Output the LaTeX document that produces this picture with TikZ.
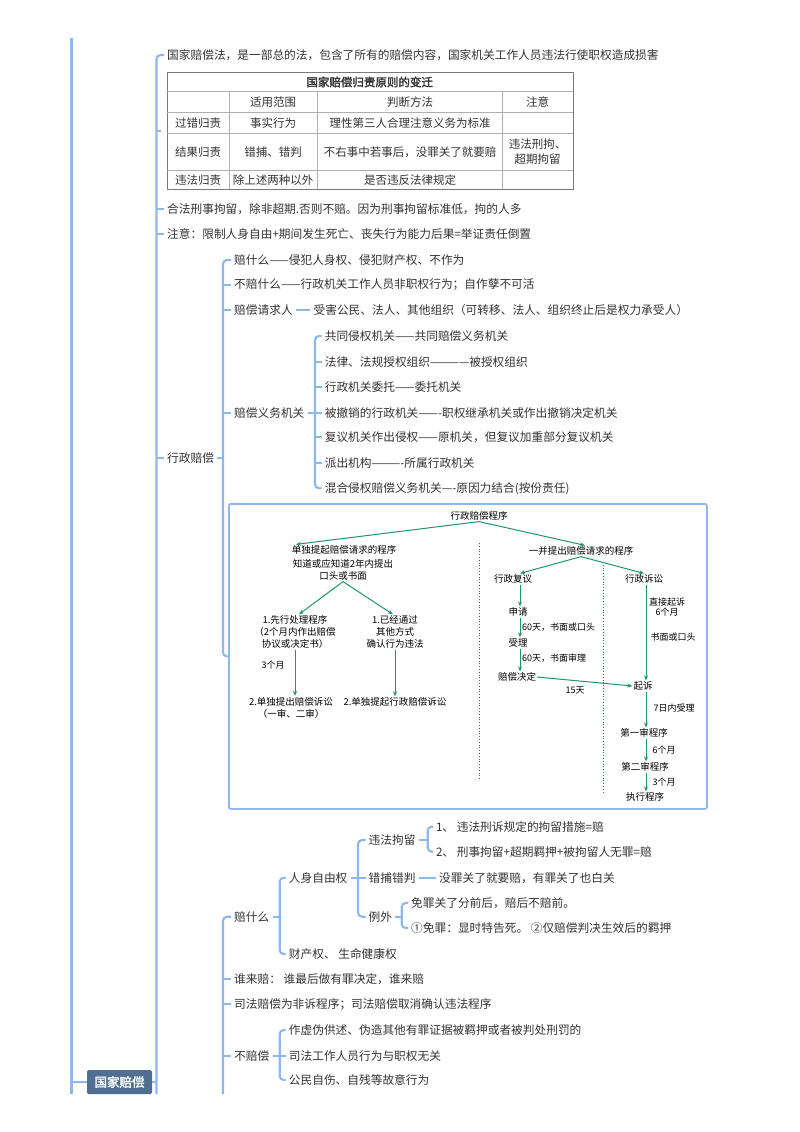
\documentclass[tikz,border=0pt]{standalone}
\usepackage{fontspec}
\newfontfamily\cjk[AutoFakeBold=2]{Noto Sans CJK SC}
\usetikzlibrary{arrows.meta,calc}
\definecolor{lnblue}{RGB}{140,184,235}
\definecolor{txt}{RGB}{51,51,51}
\definecolor{rootfill}{RGB}{80,110,145}
\definecolor{fcgreen}{RGB}{30,150,105}
\definecolor{tblline}{RGB}{175,175,175}
\definecolor{tbldark}{RGB}{120,120,120}
\begin{document}
\begin{tikzpicture}[x=1pt,y=-1pt,
  t/.style={anchor=west, inner xsep=3pt, inner ysep=1pt, text=txt, font=\cjk\fontsize{11.7}{14}\selectfont},
  tc/.style={inner sep=1pt, text=txt, align=center, font=\cjk\fontsize{11.5}{15}\selectfont},
  ln/.style={draw=lnblue, line width=2.1pt},
  br/.style={draw=lnblue, line width=2.1pt, rounded corners=4pt},
  rootbox/.style={fill=rootfill, text=white, font=\cjk\bfseries\fontsize{12.5}{14}\selectfont, minimum width=65pt, minimum height=24pt, inner sep=0pt, rounded corners=1.5pt},
  fc/.style={font=\cjk\fontsize{9.5}{12}\selectfont, text=black, inner sep=1pt, align=center},
  fl/.style={font=\cjk\fontsize{9}{10}\selectfont, text=black, inner sep=1pt, align=center},
  fa/.style={draw=fcgreen, line width=1pt, -{Stealth[length=5pt,width=4pt]}},
  fdot/.style={draw=fcgreen!80!black, dotted, line width=0.8pt}
]
\useasboundingbox[fill=white] (0,0) rectangle (800,1132);

% bracket line positions
\coordinate (b0) at (71.5,0);
\coordinate (b1) at (156.5,0);
\coordinate (b2) at (223,0);
\coordinate (b3) at (315,0);
\coordinate (b4) at (279.7,0);
\coordinate (b5) at (358,0);
\coordinate (b6) at (427.7,0);
\coordinate (b7) at (401.7,0);
\coordinate (top0) at (71.5,38);
\coordinate (bot0) at (71.5,1094);
\coordinate (bot1) at (156.5,1094);
\coordinate (bot2) at (223,1094);

% root
\node[rootbox] (root) at (119.5,1082) {国家赔偿};

% level 1
\node[t] (n1) at (164,55) {国家赔偿法，是一部总的法，包含了所有的赔偿内容，国家机关工作人员违法行使职权造成损害};
\node[draw=tbldark, line width=1pt, minimum width=406pt, minimum height=117.5pt, inner sep=0pt, anchor=north west] (tbl) at (166.7,71.7) {};
\node[t] (n3) at (164,209) {合法刑事拘留，除非超期.否则不赔。因为刑事拘留标准低，拘的人多};
\node[t] (n4) at (164,234) {注意：限制人身自由+期间发生死亡、丧失行为能力后果=举证责任倒置};
\node[t] (xz) at (164,458) {行政赔偿};

% table grid
\draw[tblline, line width=0.8pt] (166.7,91.7) -- (572.7,91.7)
  (166.7,112.3) -- (572.7,112.3)
  (166.7,133.3) -- (572.7,133.3)
  (166.7,170) -- (572.7,170)
  (229,91.7) -- (229,189.2)
  (317,91.7) -- (317,189.2)
  (502.6,91.7) -- (502.6,189.2);
\node[tc, font=\cjk\bfseries\fontsize{11.5}{14}\selectfont] (th) at (369.7,82) {国家赔偿归责原则的变迁};
\node[tc] (h1) at (273,102) {适用范围};
\node[tc] (h2) at (410,102) {判断方法};
\node[tc] (h3) at (537.6,102) {注意};
\node[tc] (r1a) at (198,123.5) {过错归责};
\node[tc] (r1b) at (273,123.5) {事实行为};
\node[tc] (r1c) at (410,123.5) {理性第三人合理注意义务为标准};
\node[tc] (r2a) at (198,152) {结果归责};
\node[tc] (r2b) at (273,152) {错捕、错判};
\node[tc] (r2c) at (410,152) {不右事中若事后，没罪关了就要赔};
\node[tc] (r2d) at (537.6,152) {违法刑拘、\\超期拘留};
\node[tc] (r3a) at (198,180.5) {违法归责};
\node[tc] (r3b) at (273,180.5) {除上述两种以外};
\node[tc] (r3c) at (410,180.5) {是否违反法律规定};

% level 1 connectors
\draw[ln] (top0) -- (bot0);
\draw[ln] (b0 |- root.west) -- (root.west);
\draw[ln] (root.east) -- (b1 |- root.east);
\draw[br] (n1.west) -- (b1 |- n1.west) -- (bot1);
\draw[ln] (b1 |- tbl.west) -- ($(tbl.west)+(-6,0)$);
\draw[ln] (b1 |- n3.west) -- (n3.west);
\draw[ln] (b1 |- n4.west) -- (n4.west);
\draw[ln] (b1 |- xz.west) -- (xz.west);

% 行政赔偿 children
\node[t] (p1) at (231,260) {赔什么——侵犯人身权、侵犯财产权、不作为};
\node[t] (p2) at (231,285) {不赔什么——行政机关工作人员非职权行为；自作孽不可活};
\node[t] (p3) at (231,310) {赔偿请求人};
\node[t] (p3a) at (310.4,310) {受害公民、法人、其他组织（可转移、法人、组织终止后是权力承受人）};
\node[t] (p4) at (231,412.7) {赔偿义务机关};
\node[draw=lnblue, line width=1.8pt, rounded corners=2pt, minimum width=478pt, minimum height=305pt, inner sep=0pt, anchor=north west] (fcbox) at (228,503) {};

\draw[ln] (xz.east) -- (b2 |- xz.east);
\draw[br] (p1.west) -- (b2 |- p1.west) -- (b2 |- fcbox.west) -- (fcbox.west);
\draw[ln] (b2 |- p2.west) -- (p2.west);
\draw[ln] (b2 |- p3.west) -- (p3.west);
\draw[ln] (b2 |- p4.west) -- (p4.west);
\draw[ln] (p3.east) -- (p3a.west);

\node[t] (q1) at (321.6,336) {共同侵权机关——共同赔偿义务机关};
\node[t] (q2) at (321.6,361.7) {法律、法规授权组织————被授权组织};
\node[t] (q3) at (321.6,386.7) {行政机关委托——委托机关};
\node[t] (q4) at (321.6,412.7) {被撤销的行政机关——-职权继承机关或作出撤销决定机关};
\node[t] (q5) at (321.6,437.3) {复议机关作出侵权——原机关，但复议加重部分复议机关};
\node[t] (q6) at (321.6,463.3) {派出机构———-所属行政机关};
\node[t] (q7) at (321.6,488.3) {混合侵权赔偿义务机关—-原因力结合(按份责任)};
\draw[ln] (p4.east) -- (b3 |- p4.east);
\draw[br] (q1.west) -- (b3 |- q1.west) -- (b3 |- q7.west) -- (q7.west);
\draw[ln] (b3 |- q2.west) -- (q2.west);
\draw[ln] (b3 |- q3.west) -- (q3.west);
\draw[ln] (b3 |- q4.west) -- (q4.west);
\draw[ln] (b3 |- q5.west) -- (q5.west);
\draw[ln] (b3 |- q6.west) -- (q6.west);

% flowchart
\node[fc] (fT) at (479,516) {行政赔偿程序};
\node[fc] (fL) at (344,550) {单独提起赔偿请求的程序};
\node[fc] (fL2) at (343,570) {知道或应知道2年内提出\\口头或书面};
\node[fc] (fR) at (581,551) {一并提出赔偿请求的程序};
\node[fc] (fA1) at (295,632) {1.先行处理程序\\（2个月内作出赔偿\\协议或决定书）};
\node[fc] (fB1) at (395,632) {1.已经通过\\其他方式\\确认行为违法};
\node[fc] (fA2) at (291,707.5) {2.单独提出赔偿诉讼\\（一审、二审）};
\node[fc] (fB2) at (395,702) {2.单独提起行政赔偿诉讼};
\node[fl] (l3m) at (273,665) {3个月};
\node[fc] (fFY) at (513,579) {行政复议};
\node[fc] (fSS) at (644,579) {行政诉讼};
\node[fc] (fSQ) at (518,612) {申请};
\node[fc] (fSL) at (518,643) {受理};
\node[fc] (fJD) at (517,677) {赔偿决定};
\node[fc] (fQS) at (643,686) {起诉};
\node[fc] (fYS) at (644,733) {第一审程序};
\node[fc] (fES) at (645,767) {第二审程序};
\node[fc] (fZX) at (645,797) {执行程序};
\node[fl, anchor=west] (l60a) at (521,627) {60天，书面或口头};
\node[fl, anchor=west] (l60b) at (521,658) {60天，书面审理};
\node[fl] (l15) at (575,690) {15天};
\node[fl] (lzj) at (667,607) {直接起诉\\6个月};
\node[fl] (lsm) at (673,637) {书面或口头};
\node[fl] (l7r) at (674,708) {7日内受理};
\node[fl] (l6m) at (664,750) {6个月};
\node[fl] (l3m2) at (664,782) {3个月};

\coordinate (cA) at (520,0);
\coordinate (cB) at (646,0);
\coordinate (d1a) at (479,543);
\coordinate (d1b) at (479,780);
\coordinate (d2a) at (603,562);
\coordinate (d2b) at (603,793);
\draw[fdot] (d1a) -- (d1b);
\draw[fdot] (d2a) -- (d2b);

\draw[fa] (fT.south) -- ($(fL.north)+(-48,0)$);
\draw[fa] (fT.south) -- ($(fR.north)+(4,0)$);
\draw[fa] (fL2.south) -- ($(fA1.north)+(4,0)$);
\draw[fa] (fL2.south) -- ($(fB1.north)+(-2,0)$);
\draw[fa] (fA1.south) -- (fA1.south |- fA2.north);
\draw[fa] (fB1.south) -- (fB1.south |- fB2.north);
\draw[fa] (fR.south) -- (cA |- fFY.north);
\draw[fa] (fR.south) -- (fSS.north);
\draw[fa] (cA |- fFY.south) -- (cA |- fSQ.north);
\draw[fa] (cA |- fSQ.south) -- (cA |- fSL.north);
\draw[fa] (cA |- fSL.south) -- (cA |- fJD.north);
\draw[fa] (fJD.east) -- (fQS.west);
\draw[fa] (cB |- fSS.south) -- (cB |- fQS.north);
\draw[fa] (cB |- fQS.south) -- (cB |- fYS.north);
\draw[fa] (cB |- fYS.south) -- (cB |- fES.north);
\draw[fa] (cB |- fES.south) -- (cB |- fZX.north);

% lower section
\node[t] (s1) at (231,916.7) {赔什么};
\node[t] (s2) at (231,979) {谁来赔： 谁最后做有罪决定，谁来赔};
\node[t] (s3) at (231,1004) {司法赔偿为非诉程序；司法赔偿取消确认违法程序};
\node[t] (s4) at (231,1056) {不赔偿};
\draw[br] (s1.west) -- (b2 |- s1.west) -- (bot2);
\draw[ln] (b2 |- s2.west) -- (s2.west);
\draw[ln] (b2 |- s3.west) -- (s3.west);
\draw[ln] (b2 |- s4.west) -- (s4.west);

\node[t] (r1) at (285.7,877.7) {人身自由权};
\node[t] (r2) at (285.7,954) {财产权、 生命健康权};
\draw[ln] (s1.east) -- (b4 |- s1.east);
\draw[br] (r1.west) -- (b4 |- r1.west) -- (b4 |- r2.west) -- (r2.west);

\node[t] (u1) at (365.5,840) {违法拘留};
\node[t] (u2) at (365.5,877.7) {错捕错判};
\node[t] (u2a) at (436,877.7) {没罪关了就要赔，有罪关了也白关};
\node[t] (u3) at (365.5,916.7) {例外};
\draw[ln] (r1.east) -- (b5 |- r1.east);
\draw[br] (u1.west) -- (b5 |- u1.west) -- (b5 |- u3.west) -- (u3.west);
\draw[ln] (b5 |- u2.west) -- (u2.west);
\draw[ln] (u2.east) -- (u2a.west);

\node[t] (v1) at (432.8,826.7) {1、 违法刑诉规定的拘留措施=赔};
\node[t] (v2) at (432.8,851.7) {2、 刑事拘留+超期羁押+被拘留人无罪=赔};
\draw[ln] (u1.east) -- (b6 |- u1.east);
\draw[br] (v1.west) -- (b6 |- v1.west) -- (b6 |- v2.west) -- (v2.west);

\node[t] (w1) at (408,903) {免罪关了分前后，赔后不赔前。};
\node[t] (w2) at (408,928) {①免罪：显时特告死。 ②仅赔偿判决生效后的羁押};
\draw[ln] (u3.east) -- (b7 |- u3.east);
\draw[br] (w1.west) -- (b7 |- w1.west) -- (b7 |- w2.west) -- (w2.west);

\node[t] (x1) at (285.7,1030) {作虚伪供述、伪造其他有罪证据被羁押或者被判处刑罚的};
\node[t] (x2) at (285.7,1056) {司法工作人员行为与职权无关};
\node[t] (x3) at (285.7,1080) {公民自伤、自残等故意行为};
\draw[ln] (s4.east) -- (b4 |- s4.east);
\draw[br] (x1.west) -- (b4 |- x1.west) -- (b4 |- x3.west) -- (x3.west);
\draw[ln] (b4 |- x2.west) -- (x2.west);
\end{tikzpicture}
\end{document}
